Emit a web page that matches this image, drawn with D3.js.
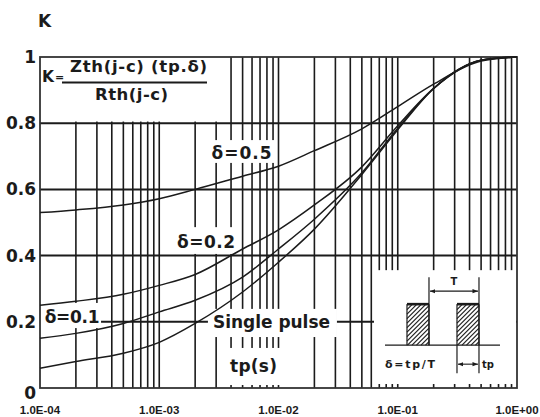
<!DOCTYPE html>
<html><head><meta charset="utf-8">
<script src="https://cdn.jsdelivr.net/npm/d3@7"></script>
<style>body{margin:0;background:#fff}svg{display:block}</style>
</head><body><svg id="c" width="540" height="417"></svg>
<script>
// ---- data ----
const tpValues  = [1e-4, 2e-4, 5e-4, 1e-3, 2e-3, 5e-3, 1e-2, 2e-2, 5e-2, 1e-1, 2e-1, 5e-1, 1];
const kDelta05  = [0.530, 0.538, 0.553, 0.572, 0.600, 0.640, 0.670, 0.717, 0.783, 0.850, 0.918, 0.988, 1.0];
const kDelta02  = [0.250, 0.262, 0.283, 0.310, 0.343, 0.420, 0.478, 0.553, 0.668, 0.792, 0.905, 0.990, 1.0];
const kDelta01  = [0.150, 0.165, 0.195, 0.230, 0.265, 0.335, 0.420, 0.510, 0.650, 0.785, 0.905, 0.990, 1.0];
const kSingle   = [0.060, 0.080, 0.105, 0.138, 0.195, 0.290, 0.380, 0.480, 0.645, 0.780, 0.905, 0.990, 1.0];
const seriesNames = ["δ=0.5", "δ=0.2", "δ=0.1", "Single pulse"];
const xTickValues = [1e-4, 1e-3, 1e-2, 1e-1, 1];
const xTickLabels = ["1.0E-04", "1.0E-03", "1.0E-02", "1.0E-01", "1.0E+00"];
const yTickValues = [0, 0.2, 0.4, 0.6, 0.8, 1];
const yTickLabels = ["0", "0.2", "0.4", "0.6", "0.8", "1"];
const yAxisTitle = "K";
const xAxisTitle = "tp(s)";

// ---- layout ----
const L = 40, R = 517, T = 57, B = 388;
const svg = d3.select("#c");
const x = d3.scaleLog().domain([1e-4, 1]).range([L, R]);
const y = d3.scaleLinear().domain([0, 1]).range([B, T]);
const BOLD = "'DejaVu Sans', sans-serif";
const INK = "#1b1b1b";

const defs = svg.append("defs");
defs.append("marker").attr("id", "ah").attr("viewBox", "0 0 10 10").attr("refX", 10).attr("refY", 5)
  .attr("markerWidth", 5).attr("markerHeight", 5).attr("orient", "auto-start-reverse")
  .append("path").attr("d", "M0,1 L10,5 L0,9 z").attr("fill", INK);

// ---- grid ----
const minor = [];
for (let e = -4; e < 0; e++) for (let m = 1; m <= 9; m++) minor.push(m * Math.pow(10, e));
const grid = svg.append("g");
grid.selectAll("line.v").data(minor.filter(v => v > 1e-4 && v < 1)).join("line")
  .attr("x1", d => x(d)).attr("x2", d => x(d)).attr("y1", T).attr("y2", B)
  .attr("stroke", INK).attr("stroke-width", 1.6);
grid.selectAll("line.h").data([0.2, 0.4, 0.6, 0.8]).join("line")
  .attr("x1", L).attr("x2", R).attr("y1", d => y(d)).attr("y2", d => y(d))
  .attr("stroke", INK).attr("stroke-width", 2);

// ---- white label boxes (mask grid) ----
const boxes = [
  [1e-4, 3.49e-3, 1.0, 0.805],     // formula
  [2.51e-3, 9.53e-3, 0.749, 0.680],// δ=0.5
  [1.28e-3, 4.75e-3, 0.486, 0.405],// δ=0.2
  [1e-4, 3.25e-4, 0.257, 0.181],   // δ=0.1
  [2.56e-3, 3.09e-2, 0.239, 0.154],// Single pulse
  [3.36e-3, 1.09e-2, 0.121, 0.009],// tp(s)
  [6.32e-2, 0.981, 0.356, 0.012]   // inset
];
svg.append("g").selectAll("rect").data(boxes).join("rect")
  .attr("x", d => x(d[0])).attr("width", d => x(d[1]) - x(d[0]))
  .attr("y", d => y(d[2])).attr("height", d => y(d[3]) - y(d[2]))
  .attr("fill", "#fff");

// ---- frame ----
svg.append("rect").attr("x", L).attr("y", T).attr("width", R - L).attr("height", B - T)
  .attr("fill", "none").attr("stroke", "#333").attr("stroke-width", 1.8);

// ---- curves ----
const series = [kDelta05, kDelta02, kDelta01, kSingle];
const line = d3.line().x((d, i) => x(tpValues[i])).y(d => y(d)).curve(d3.curveMonotoneX);
svg.append("g").selectAll("path").data(series).join("path")
  .attr("d", d => line(d)).attr("fill", "none").attr("stroke", INK).attr("stroke-width", 1.5);

// ---- axis labels ----
svg.append("g").selectAll("text").data(yTickValues).join("text")
  .attr("x", 36).attr("y", (d, i) => y(d) + (d === 0 ? 11 : 6))
  .attr("text-anchor", "end").attr("font-family", BOLD).attr("font-weight", "bold")
  .attr("font-size", 17).attr("fill", INK).text((d, i) => yTickLabels[i]);
svg.append("g").selectAll("text").data(xTickValues).join("text")
  .attr("x", d => x(d)).attr("y", 414)
  .attr("text-anchor", "middle").attr("font-family", "'Liberation Sans', Arial, sans-serif")
  .attr("font-weight", "bold").attr("font-size", 11.5).attr("fill", INK)
  .text((d, i) => xTickLabels[i]);
svg.append("text").attr("x", 38).attr("y", 27).attr("font-family", BOLD).attr("font-weight", "bold")
  .attr("font-size", 17).attr("fill", INK).text(yAxisTitle);

// ---- formula ----
const fg = svg.append("g").attr("font-family", BOLD).attr("font-weight", "bold").attr("fill", INK);
fg.append("text").attr("x", 42).attr("y", 82).attr("font-size", 15.5).text("K");
fg.append("text").attr("x", 55).attr("y", 81).attr("font-size", 11).text("=");
fg.append("line").attr("x1", 62).attr("x2", 207).attr("y1", 82.5).attr("y2", 82.5)
  .attr("stroke", INK).attr("stroke-width", 1.8);
fg.append("text").attr("x", 138.5).attr("y", 72).attr("text-anchor", "middle").attr("font-size", 16.5)
  .attr("textLength", 137).attr("lengthAdjust", "spacing").text("Zth(j-c) (tp.δ)");
fg.append("text").attr("x", 131.5).attr("y", 100).attr("text-anchor", "middle").attr("font-size", 16.5)
  .attr("textLength", 73).attr("lengthAdjust", "spacing").text("Rth(j-c)");

// ---- curve labels ----
const labelPos = [
  {t: 4.9e-3, k: 0.692, w: 60},
  {t: 2.47e-3, k: 0.424, w: 58},
  {t: 1.86e-4, k: 0.195, w: 55},
  {t: 8.74e-3, k: 0.181, w: 117}
];
svg.append("g").selectAll("text").data(seriesNames).join("text")
  .attr("x", (d, i) => x(labelPos[i].t)).attr("y", (d, i) => y(labelPos[i].k))
  .attr("text-anchor", "middle").attr("font-family", BOLD).attr("font-weight", "bold")
  .attr("font-size", 17).attr("fill", INK)
  .attr("textLength", (d, i) => labelPos[i].w).attr("lengthAdjust", "spacing").text(d => d);
svg.append("text").attr("x", x(6.17e-3)).attr("y", y(0.048)).attr("text-anchor", "middle")
  .attr("font-family", BOLD).attr("font-weight", "bold").attr("font-size", 17).attr("fill", INK)
  .attr("textLength", 47).attr("lengthAdjust", "spacing").text(xAxisTitle);

// ---- inset pulse diagram ----
const ix = x(6.32e-2), iy = y(0.356);
const ins = svg.append("g").attr("transform", `translate(${ix},${iy})`);
const stk = (sel, w) => sel.attr("stroke", INK).attr("stroke-width", w);
stk(ins.append("line").attr("x1", 11).attr("x2", 126).attr("y1", 75).attr("y2", 75), 1.2);
const pTop = 34, pBot = 75, hStep = 4.5;
const pulses = [[33, 55], [83, 105]];
const hatchSegs = [];
pulses.forEach(([a, b]) => {
  for (let c = a + pTop + 1; c < b + pBot; c += hStep) {
    const x0 = Math.max(a, c - pBot), x1 = Math.min(b, c - pTop);
    if (x1 - x0 > 0.5) hatchSegs.push({x0: x0, y0: c - x0, x1: x1, y1: c - x1});
  }
});
ins.append("g").selectAll("line").data(hatchSegs).join("line")
  .attr("x1", s => s.x0).attr("y1", s => s.y0).attr("x2", s => s.x1).attr("y2", s => s.y1)
  .style("stroke", "#222").style("stroke-width", "1.2px");
pulses.forEach(([a, b]) => {
  stk(ins.append("line").attr("x1", a).attr("x2", b).attr("y1", pTop).attr("y2", pTop), 2.6);
  stk(ins.append("line").attr("x1", a).attr("x2", a).attr("y1", pTop).attr("y2", pBot), 1.2);
  stk(ins.append("line").attr("x1", b).attr("x2", b).attr("y1", pTop).attr("y2", pBot), 1.2);
});
stk(ins.append("line").attr("x1", 55).attr("x2", 55).attr("y1", 7).attr("y2", 75), 1.2);
stk(ins.append("line").attr("x1", 105).attr("x2", 105).attr("y1", 7).attr("y2", 103), 1.2);
stk(ins.append("line").attr("x1", 83).attr("x2", 83).attr("y1", 75).attr("y2", 103), 1.2);
stk(ins.append("line").attr("x1", 56).attr("x2", 104).attr("y1", 21).attr("y2", 21), 1.1)
  .attr("marker-start", "url(#ah)").attr("marker-end", "url(#ah)");
stk(ins.append("line").attr("x1", 84).attr("x2", 104).attr("y1", 94).attr("y2", 94), 1.1)
  .attr("marker-start", "url(#ah)").attr("marker-end", "url(#ah)");
const it = ins.append("g").attr("font-family", BOLD).attr("font-weight", "bold").attr("fill", INK);
it.append("text").attr("x", 80).attr("y", 15).attr("text-anchor", "middle").attr("font-size", 10).text("T");
it.append("text").attr("x", 108).attr("y", 98).attr("font-size", 10).text("tp");
it.append("text").attr("x", 11).attr("y", 98).attr("font-size", 11)
  .attr("textLength", 50).attr("lengthAdjust", "spacing").text("δ=tp/T");
</script></body></html>
